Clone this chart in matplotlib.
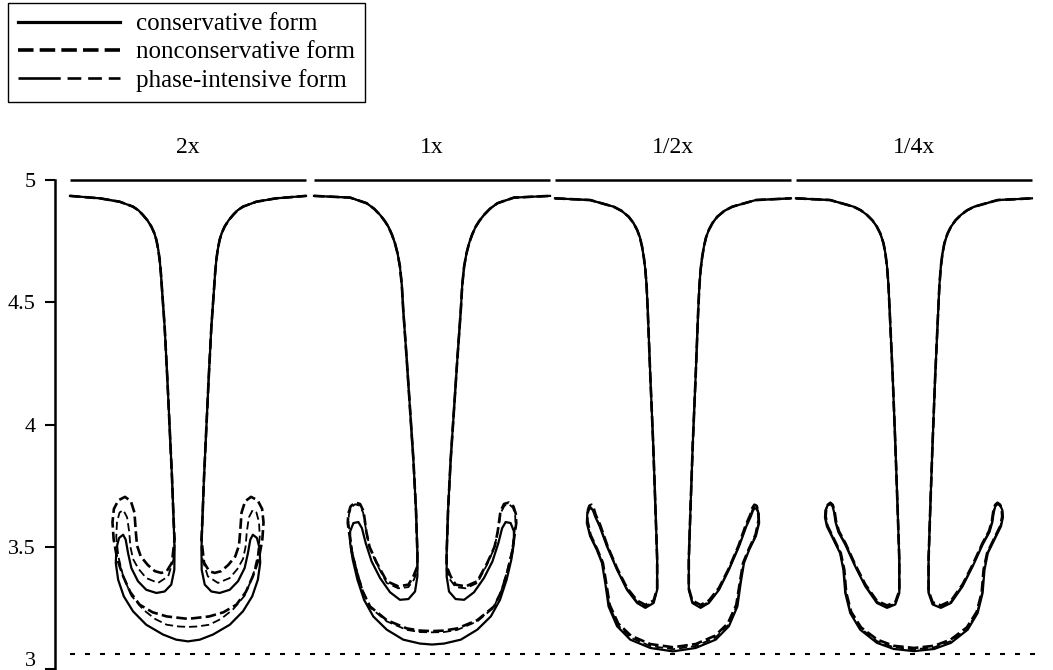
import numpy as np
import matplotlib
matplotlib.use('Agg')
import matplotlib.pyplot as plt
from matplotlib.lines import Line2D
from matplotlib.transforms import ScaledTranslation

plt.rcParams['font.family'] = 'serif'
plt.rcParams['font.serif'] = ['Liberation Serif', 'DejaVu Serif']

titles = ['2x', '1x', '1/2x', '1/4x']
forms = ['conservative form', 'nonconservative form', 'phase-intensive form']
top_level = 5.0
ref_level = 3.06
yticks = [3, 3.5, 4, 4.5, 5]
ytick_labels = ['3', '3.5', '4', '4.5', '5']

# left half of each interface (x from wall to centre), mirrored for the right half
# part shared by all three forms: wall -> down the stem
p1_top_x = [0.000, 0.127, 0.211, 0.267, 0.290, 0.309, 0.328, 0.345, 0.357, 0.366, 0.374, 0.380, 0.385, 0.391, 0.401, 0.412, 0.422, 0.432, 0.439]
p1_top_y = [4.935, 4.925, 4.911, 4.891, 4.876, 4.857, 4.835, 4.809, 4.783, 4.755, 4.715, 4.673, 4.620, 4.537, 4.400, 4.196, 3.992, 3.787, 3.611]
p2_top_x = [0.000, 0.153, 0.223, 0.255, 0.280, 0.300, 0.315, 0.330, 0.343, 0.354, 0.364, 0.372, 0.378, 0.393, 0.407, 0.421, 0.432, 0.438]
p2_top_y = [4.935, 4.928, 4.905, 4.882, 4.857, 4.832, 4.809, 4.777, 4.741, 4.700, 4.646, 4.570, 4.469, 4.264, 4.060, 3.856, 3.651, 3.474]
p3_top_x = [0.000, 0.149, 0.248, 0.282, 0.312, 0.332, 0.348, 0.360, 0.369, 0.377, 0.383, 0.388, 0.393, 0.404, 0.416, 0.426, 0.433]
p3_top_y = [4.925, 4.918, 4.891, 4.874, 4.850, 4.825, 4.796, 4.765, 4.727, 4.680, 4.632, 4.570, 4.469, 4.196, 3.924, 3.651, 3.447]
p4_top_x = [0.000, 0.145, 0.244, 0.275, 0.301, 0.324, 0.343, 0.358, 0.371, 0.379, 0.386, 0.392, 0.397, 0.410, 0.421, 0.431, 0.438]
p4_top_y = [4.925, 4.918, 4.891, 4.876, 4.857, 4.835, 4.809, 4.780, 4.741, 4.700, 4.646, 4.570, 4.469, 4.196, 3.924, 3.651, 3.447]

# mushroom caps: stem bottom -> inner edge -> tip -> outer edge -> centre bottom
p1_cons_x = [0.443, 0.442, 0.429, 0.401, 0.366, 0.323, 0.288, 0.260, 0.246, 0.236, 0.225, 0.208, 0.197, 0.194, 0.204, 0.228, 0.267, 0.323, 0.394, 0.450, 0.500]
p1_cons_y = [3.488, 3.406, 3.345, 3.317, 3.311, 3.324, 3.359, 3.413, 3.474, 3.529, 3.549, 3.536, 3.495, 3.434, 3.365, 3.297, 3.236, 3.181, 3.141, 3.120, 3.113]
p1_ncons_x = [0.443, 0.432, 0.410, 0.387, 0.360, 0.330, 0.300, 0.284, 0.279, 0.273, 0.258, 0.233, 0.205, 0.186, 0.180, 0.185, 0.200, 0.225, 0.255, 0.295, 0.350, 0.410, 0.500]
p1_ncons_y = [3.530, 3.435, 3.400, 3.393, 3.400, 3.425, 3.460, 3.505, 3.560, 3.640, 3.686, 3.704, 3.690, 3.655, 3.600, 3.530, 3.450, 3.380, 3.315, 3.263, 3.232, 3.215, 3.205]
p1_phase_x = [0.443, 0.438, 0.416, 0.373, 0.323, 0.290, 0.267, 0.256, 0.251, 0.242, 0.226, 0.210, 0.199, 0.196, 0.205, 0.225, 0.260, 0.310, 0.360, 0.410, 0.460, 0.500]
p1_phase_y = [3.500, 3.447, 3.379, 3.352, 3.372, 3.410, 3.450, 3.500, 3.560, 3.620, 3.650, 3.640, 3.600, 3.540, 3.460, 3.380, 3.300, 3.243, 3.205, 3.181, 3.174, 3.172]

p2_cons_x = [0.438, 0.428, 0.400, 0.364, 0.322, 0.280, 0.244, 0.219, 0.203, 0.188, 0.167, 0.153, 0.153, 0.164, 0.184, 0.212, 0.251, 0.308, 0.378, 0.449, 0.500]
p2_cons_y = [3.379, 3.317, 3.286, 3.283, 3.314, 3.372, 3.440, 3.515, 3.576, 3.601, 3.597, 3.563, 3.515, 3.447, 3.365, 3.283, 3.215, 3.161, 3.120, 3.104, 3.100]
p2_ncons_x = [0.438, 0.421, 0.400, 0.357, 0.308, 0.266, 0.235, 0.222, 0.210, 0.195, 0.174, 0.155, 0.145, 0.143, 0.150, 0.160, 0.180, 0.205, 0.237, 0.308, 0.393, 0.450, 0.500]
p2_ncons_y = [3.420, 3.379, 3.345, 3.338, 3.359, 3.434, 3.500, 3.560, 3.645, 3.675, 3.681, 3.665, 3.635, 3.597, 3.550, 3.480, 3.400, 3.320, 3.256, 3.200, 3.166, 3.157, 3.155]
p2_phase_x = [0.438, 0.423, 0.400, 0.357, 0.308, 0.268, 0.236, 0.222, 0.208, 0.193, 0.174, 0.157, 0.148, 0.146, 0.152, 0.162, 0.182, 0.207, 0.240, 0.308, 0.393, 0.450, 0.500]
p2_phase_y = [3.400, 3.365, 3.335, 3.330, 3.352, 3.425, 3.495, 3.560, 3.640, 3.668, 3.674, 3.660, 3.632, 3.597, 3.550, 3.480, 3.400, 3.318, 3.250, 3.195, 3.160, 3.151, 3.150]

p3_cons_x = [0.433, 0.418, 0.383, 0.348, 0.305, 0.263, 0.220, 0.189, 0.170, 0.162, 0.154, 0.145, 0.137, 0.135, 0.149, 0.177, 0.199, 0.213, 0.227, 0.263, 0.319, 0.404, 0.500]
p3_cons_y = [3.324, 3.270, 3.250, 3.270, 3.324, 3.406, 3.502, 3.584, 3.624, 3.646, 3.658, 3.654, 3.636, 3.597, 3.543, 3.488, 3.434, 3.352, 3.256, 3.175, 3.120, 3.086, 3.072]
p3_ncons_x = [0.433, 0.418, 0.383, 0.348, 0.305, 0.263, 0.222, 0.192, 0.172, 0.164, 0.155, 0.146, 0.140, 0.137, 0.150, 0.178, 0.203, 0.217, 0.232, 0.268, 0.322, 0.404, 0.500]
p3_ncons_y = [3.330, 3.280, 3.262, 3.280, 3.332, 3.412, 3.505, 3.588, 3.632, 3.658, 3.672, 3.668, 3.652, 3.610, 3.550, 3.492, 3.434, 3.352, 3.262, 3.186, 3.136, 3.102, 3.089]
p3_phase_x = [0.433, 0.418, 0.383, 0.348, 0.305, 0.263, 0.221, 0.190, 0.171, 0.163, 0.155, 0.146, 0.139, 0.136, 0.150, 0.178, 0.201, 0.215, 0.230, 0.266, 0.321, 0.404, 0.500]
p3_phase_y = [3.327, 3.275, 3.256, 3.275, 3.328, 3.409, 3.504, 3.586, 3.628, 3.652, 3.665, 3.661, 3.644, 3.603, 3.546, 3.490, 3.434, 3.352, 3.259, 3.180, 3.128, 3.094, 3.081]

p4_cons_x = [0.438, 0.421, 0.386, 0.343, 0.294, 0.251, 0.209, 0.180, 0.168, 0.162, 0.155, 0.145, 0.133, 0.125, 0.123, 0.131, 0.159, 0.187, 0.201, 0.209, 0.230, 0.272, 0.343, 0.414, 0.500]
p4_cons_y = [3.311, 3.264, 3.250, 3.270, 3.338, 3.420, 3.509, 3.560, 3.600, 3.640, 3.666, 3.675, 3.667, 3.648, 3.620, 3.584, 3.529, 3.474, 3.406, 3.311, 3.229, 3.161, 3.107, 3.082, 3.073]
p4_ncons_x = [0.438, 0.421, 0.386, 0.343, 0.294, 0.251, 0.210, 0.182, 0.170, 0.164, 0.156, 0.146, 0.135, 0.128, 0.126, 0.134, 0.162, 0.190, 0.205, 0.213, 0.234, 0.276, 0.345, 0.414, 0.500]
p4_ncons_y = [3.320, 3.273, 3.260, 3.279, 3.346, 3.427, 3.514, 3.564, 3.604, 3.644, 3.671, 3.680, 3.672, 3.652, 3.624, 3.585, 3.530, 3.474, 3.406, 3.313, 3.234, 3.170, 3.120, 3.095, 3.086]
p4_phase_x = [0.438, 0.421, 0.386, 0.343, 0.294, 0.251, 0.210, 0.181, 0.169, 0.163, 0.156, 0.146, 0.134, 0.127, 0.125, 0.133, 0.161, 0.189, 0.203, 0.211, 0.232, 0.274, 0.344, 0.414, 0.500]
p4_phase_y = [3.315, 3.268, 3.255, 3.275, 3.342, 3.424, 3.512, 3.562, 3.602, 3.642, 3.669, 3.678, 3.670, 3.650, 3.622, 3.585, 3.530, 3.474, 3.406, 3.312, 3.232, 3.166, 3.114, 3.089, 3.080]

tops = [(p1_top_x, p1_top_y), (p2_top_x, p2_top_y), (p3_top_x, p3_top_y), (p4_top_x, p4_top_y)]
caps = [
    [(p1_cons_x, p1_cons_y), (p1_ncons_x, p1_ncons_y), (p1_phase_x, p1_phase_y)],
    [(p2_cons_x, p2_cons_y), (p2_ncons_x, p2_ncons_y), (p2_phase_x, p2_phase_y)],
    [(p3_cons_x, p3_cons_y), (p3_ncons_x, p3_ncons_y), (p3_phase_x, p3_phase_y)],
    [(p4_cons_x, p4_cons_y), (p4_ncons_x, p4_ncons_y), (p4_phase_x, p4_phase_y)],
]

# panel placement along the shared x axis (panel width = 1)
offsets = [0.0, 1.034, 2.055, 3.076]
styles = [
    dict(color='k', lw=1.6, ls='-', solid_joinstyle='round'),
    dict(color='k', lw=1.9, ls=(0, (4, 1.6))),
    dict(color='k', lw=1.3, ls=(0, (4.5, 2.2))),
]


def interface(top, cap):
    hx = np.concatenate([top[0], cap[0]])
    hy = np.concatenate([top[1], cap[1]])
    x = np.concatenate([hx, 1 - hx[::-1]])
    y = np.concatenate([hy, hy[::-1]])
    return x, y


fig = plt.figure(figsize=(10.53, 6.70), dpi=100)
ax = fig.add_axes([55 / 1053, 1 / 670, 990 / 1053, 489 / 670])
ax.set_xlim(-15 / 236, 975 / 236)
ax.set_ylim(3, 5)

for i, off in enumerate(offsets):
    ax.hlines(top_level, off, off + 1, color='k', lw=1.8, clip_on=False)
    for j, st in enumerate(styles):
        x, y = interface(tops[i], caps[i][j])
        ax.plot(off + x, y, **st)
    ax.annotate(titles[i], xy=(off + 0.5, top_level), xytext=(0, 19.5),
                textcoords='offset points', ha='center', va='baseline',
                fontsize=17, annotation_clip=False)

ax.hlines(ref_level, 0, ax.get_xlim()[1] - 0.01, color='k', lw=1.5, ls=(0, (2.4, 4.8)))

for s in ['top', 'right', 'bottom']:
    ax.spines[s].set_visible(False)
ax.spines['left'].set_linewidth(1.8)
ax.set_xticks([])
ax.set_yticks(yticks)
ax.set_yticklabels(ytick_labels)
ax.tick_params(axis='y', direction='out', length=7, width=1.5, pad=7, labelsize=16)

# lowest label sits a little above its tick, as in the original
lbl = ax.get_yticklabels()[0]
lbl.set_transform(lbl.get_transform() + ScaledTranslation(0, 7 / 72, fig.dpi_scale_trans))

handles = [
    Line2D([], [], color='k', lw=2.3),
    Line2D([], [], color='k', lw=2.6, ls=(0, (4.3, 1.7))),
    Line2D([], [], color='k', lw=1.9, ls=(0, (16, 2.6, 5.2, 2.6, 5.2, 2.6, 20, 2.6))),
]
leg = fig.legend(handles, forms, loc='upper left', bbox_to_anchor=(8 / 1053, 1 - 3 / 670),
                 fontsize=18, frameon=True, fancybox=False, edgecolor='k',
                 handlelength=4.1, handletextpad=0.6, labelspacing=0.22,
                 borderpad=0.4, borderaxespad=0)
leg.get_frame().set_linewidth(1.0)
leg.get_frame().set_alpha(1)

fig.savefig('out.png', dpi=100)
